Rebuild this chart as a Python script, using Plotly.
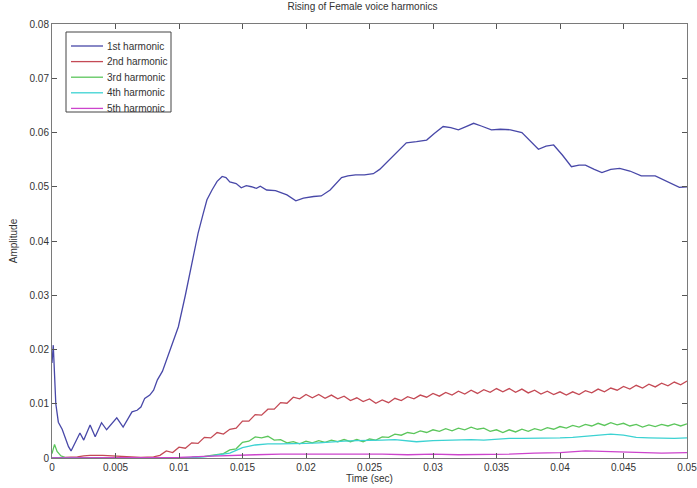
import plotly.graph_objects as go

# ---------------- data ----------------
t1 = [0, 0.0001, 0.0003, 0.0005, 0.0008, 0.001, 0.0013, 0.0015, 0.0018, 0.0022,
      0.0025, 0.003, 0.0034, 0.0039, 0.0043, 0.0051, 0.0056, 0.0063, 0.0067, 0.0070,
      0.0073, 0.0077, 0.0080, 0.0083, 0.0087, 0.0090, 0.0095, 0.00995, 0.0105, 0.0111,
      0.0115, 0.0119, 0.0122, 0.0126, 0.0130, 0.0134, 0.0137, 0.0140, 0.0145, 0.0149,
      0.0153, 0.0157, 0.0161, 0.0164, 0.0169, 0.0176, 0.0185, 0.0192, 0.0198, 0.0206,
      0.0212, 0.0219, 0.0225, 0.0228, 0.0233, 0.0239, 0.0246, 0.0253, 0.0258, 0.0264,
      0.0272, 0.0279, 0.0287, 0.0295, 0.0301, 0.0308, 0.0314, 0.0320, 0.0326, 0.0332,
      0.0338, 0.0346, 0.0353, 0.0361, 0.0370, 0.0376, 0.0383, 0.0389, 0.0395, 0.0402,
      0.0409, 0.0415, 0.0420, 0.0427, 0.0433, 0.0440, 0.0447, 0.0455, 0.0464, 0.0475,
      0.0485, 0.0494, 0.0500]
h1 = [0.0175, 0.0208, 0.0100, 0.0066, 0.0053, 0.0040, 0.0021, 0.0013, 0.0026, 0.0046,
      0.0033, 0.0061, 0.0039, 0.0065, 0.0052, 0.0074, 0.0057, 0.0085, 0.0088, 0.0094,
      0.0110, 0.0116, 0.0125, 0.0144, 0.0160, 0.0180, 0.0210, 0.0242, 0.0300, 0.0371,
      0.0414, 0.0450, 0.0476, 0.0494, 0.0510, 0.0519, 0.0517, 0.0509, 0.0506, 0.0498,
      0.0502, 0.0500, 0.0497, 0.0501, 0.0494, 0.0493, 0.0485, 0.0474, 0.0479, 0.0482,
      0.0483, 0.0494, 0.0510, 0.0517, 0.0520, 0.0522, 0.0522, 0.0524, 0.0532, 0.0546,
      0.0563, 0.0581, 0.0583, 0.0586, 0.0598, 0.0611, 0.0609, 0.0605, 0.0611, 0.0617,
      0.0612, 0.0605, 0.0606, 0.0605, 0.0600, 0.0586, 0.0569, 0.0575, 0.0577, 0.0558,
      0.0537, 0.0540, 0.0540, 0.0532, 0.0526, 0.0532, 0.0534, 0.0529, 0.0520, 0.0520,
      0.0509, 0.0499, 0.0500]

t2 = [0, 0.001, 0.002, 0.0025, 0.003, 0.004, 0.005, 0.006, 0.007, 0.008, 0.0085,
      0.0090, 0.0095, 0.0100, 0.0105, 0.0110, 0.0115, 0.0120, 0.0125, 0.0130, 0.0135,
      0.0140, 0.0145, 0.0150, 0.0155, 0.0160, 0.0165, 0.0170, 0.0175, 0.0180, 0.0185,
      0.0190, 0.0195, 0.0200, 0.0205, 0.0210, 0.0215, 0.0220, 0.0225, 0.0230, 0.0235,
      0.0240, 0.0245, 0.0250, 0.0255, 0.0260, 0.0265, 0.0270, 0.0275, 0.0280, 0.0285,
      0.0290, 0.0295, 0.0300, 0.0305, 0.0310, 0.0315, 0.0320, 0.0325, 0.0330, 0.0335,
      0.0340, 0.0345, 0.0350, 0.0355, 0.0360, 0.0365, 0.0370, 0.0375, 0.0380, 0.0385,
      0.0390, 0.0395, 0.0400, 0.0405, 0.0410, 0.0415, 0.0420, 0.0425, 0.0430, 0.0435,
      0.0440, 0.0445, 0.0450, 0.0455, 0.0460, 0.0465, 0.0470, 0.0475, 0.0480, 0.0485,
      0.0490, 0.0495, 0.0500]
h2 = [0.0000, 0.0001, 0.0002, 0.0004, 0.0005, 0.0005, 0.0004, 0.0002, 0.0001, 0.0002, 0.0005,
      0.0013, 0.0010, 0.0020, 0.0018, 0.0028, 0.0027, 0.0038, 0.0037, 0.0047, 0.0044,
      0.0053, 0.0055, 0.0068, 0.0068, 0.0080, 0.0079, 0.0090, 0.0090, 0.0102, 0.0101,
      0.0112, 0.0109, 0.0117, 0.0111, 0.0117, 0.0110, 0.0116, 0.0109, 0.0114, 0.0106,
      0.0111, 0.0104, 0.0109, 0.0101, 0.0107, 0.0102, 0.0110, 0.0106, 0.0113, 0.0109,
      0.0116, 0.0112, 0.0119, 0.0114, 0.0121, 0.0116, 0.0123, 0.0118, 0.0125, 0.0119,
      0.0126, 0.0121, 0.0128, 0.0122, 0.0128, 0.0121, 0.0127, 0.0120, 0.0125, 0.0118,
      0.0123, 0.0117, 0.0122, 0.0116, 0.0122, 0.0117, 0.0124, 0.0120, 0.0127, 0.0122,
      0.0129, 0.0125, 0.0132, 0.0127, 0.0134, 0.0129, 0.0136, 0.0131, 0.0138, 0.0133,
      0.0140, 0.0135, 0.0142]

t3 = [0, 0.0001, 0.0002, 0.0004, 0.0007, 0.001, 0.002, 0.005, 0.008, 0.011, 0.012, 0.013,
      0.0135, 0.0140, 0.0145, 0.0150, 0.0155, 0.0160, 0.0165, 0.0170, 0.0175, 0.0180,
      0.0185, 0.0190, 0.0195, 0.0200, 0.0205, 0.0210, 0.0215, 0.0220, 0.0225, 0.0230,
      0.0235, 0.0240, 0.0245, 0.0250, 0.0255, 0.0260, 0.0265, 0.0270, 0.0275, 0.0280,
      0.0285, 0.0290, 0.0295, 0.0300, 0.0305, 0.0310, 0.0315, 0.0320, 0.0325, 0.0330,
      0.0335, 0.0340, 0.0345, 0.0350, 0.0355, 0.0360, 0.0365, 0.0370, 0.0375, 0.0380,
      0.0385, 0.0390, 0.0395, 0.0400, 0.0405, 0.0410, 0.0415, 0.0420, 0.0425, 0.0430,
      0.0435, 0.0440, 0.0445, 0.0450, 0.0455, 0.0460, 0.0465, 0.0470, 0.0475, 0.0480,
      0.0485, 0.0490, 0.0495, 0.0500]
h3 = [0.0008, 0.0020, 0.0025, 0.0012, 0.0004, 0.0001, 0.0000, 0.0000, 0.0000, 0.0001, 0.0003, 0.0007,
      0.0008, 0.0015, 0.0017, 0.0029, 0.0031, 0.0039, 0.0037, 0.0040, 0.0033, 0.0034,
      0.0028, 0.0030, 0.0026, 0.0031, 0.0028, 0.0032, 0.0029, 0.0033, 0.0030, 0.0034,
      0.0030, 0.0034, 0.0030, 0.0035, 0.0033, 0.0039, 0.0038, 0.0044, 0.0042, 0.0047,
      0.0045, 0.0050, 0.0047, 0.0052, 0.0049, 0.0054, 0.0050, 0.0055, 0.0052, 0.0057,
      0.0053, 0.0055, 0.0049, 0.0052, 0.0047, 0.0052, 0.0048, 0.0053, 0.0049, 0.0054,
      0.0051, 0.0056, 0.0053, 0.0058, 0.0055, 0.0060, 0.0057, 0.0062, 0.0059, 0.0064,
      0.0060, 0.0065, 0.0061, 0.0064, 0.0059, 0.0062, 0.0057, 0.0061, 0.0058, 0.0062,
      0.0059, 0.0063, 0.0059, 0.0063]

t4 = [0, 0.005, 0.010, 0.011, 0.012, 0.013, 0.014, 0.0145, 0.015, 0.016, 0.017, 0.018,
      0.019, 0.020, 0.021, 0.022, 0.023, 0.024, 0.025, 0.026, 0.027, 0.028, 0.0287,
      0.030, 0.031, 0.032, 0.033, 0.034, 0.035, 0.036, 0.037, 0.038, 0.039, 0.040,
      0.041, 0.042, 0.043, 0.044, 0.045, 0.046, 0.047, 0.048, 0.049, 0.050]
h4 = [0.0000, 0.0000, 0.0000, 0.0001, 0.0002, 0.0005, 0.0009, 0.0014, 0.0019, 0.0024,
      0.0026, 0.0026, 0.0026, 0.0027, 0.0028, 0.0030, 0.0031, 0.0032, 0.0032, 0.0033,
      0.0034, 0.0032, 0.0030, 0.0032, 0.0033, 0.0034, 0.0034, 0.0033, 0.0035, 0.0036,
      0.0036, 0.0036, 0.0037, 0.0037, 0.0038, 0.0040, 0.0042, 0.0044, 0.0042, 0.0038,
      0.0037, 0.0036, 0.0036, 0.0037]

t5 = [0, 0.005, 0.010, 0.012, 0.014, 0.016, 0.018, 0.020, 0.022, 0.024, 0.026, 0.028,
      0.030, 0.032, 0.034, 0.036, 0.038, 0.040, 0.042, 0.044, 0.046, 0.048, 0.050]
h5 = [0.0000, 0.0000, 0.0001, 0.0003, 0.0005, 0.0006, 0.0007, 0.0007, 0.0008, 0.0007,
      0.0007, 0.0006, 0.0007, 0.0006, 0.0006, 0.0007, 0.0009, 0.0010, 0.0013, 0.0012,
      0.0011, 0.0009, 0.0010]

series_names = ["1st harmonic", "2nd harmonic", "3rd harmonic", "4th harmonic", "5th harmonic"]
series_t = [t1, t2, t3, t4, t5]
series_h = [h1, h2, h3, h4, h5]
series_colors = ["#4848a8", "#c44a55", "#5cc65c", "#3cd2d2", "#cc44cc"]

x_ticks = [0, 0.005, 0.01, 0.015, 0.02, 0.025, 0.03, 0.035, 0.04, 0.045, 0.05]
x_tick_text = ["0", "0.005", "0.01", "0.015", "0.02", "0.025", "0.03", "0.035", "0.04", "0.045", "0.05"]
y_ticks = [0, 0.01, 0.02, 0.03, 0.04, 0.05, 0.06, 0.07, 0.08]
y_tick_text = ["0", "0.01", "0.02", "0.03", "0.04", "0.05", "0.06", "0.07", "0.08"]

# ---------------- figure ----------------
FONT = "Liberation Sans, Arial, sans-serif"
TXT = "#333333"
W, H = 697, 488
ML, MR, MT, MB = 52, 10, 24, 30
PW, PH = W - ML - MR, H - MT - MB

fig = go.Figure()
for name, tt, hh, col in zip(series_names, series_t, series_h, series_colors):
    fig.add_trace(go.Scatter(x=tt, y=hh, mode="lines", name=name,
                             line=dict(color=col, width=1.3), showlegend=False))

# MATLAB-style boxed legend (compact rows), drawn in paper coordinates
def px_x(p):
    return (p - ML) / PW

def px_y(p):
    return (H - MB - p) / PH

shapes = [dict(type="rect", xref="paper", yref="paper",
               x0=px_x(66), x1=px_x(171), y0=px_y(112), y1=px_y(32),
               line=dict(color="#444444", width=1), fillcolor="white", layer="above")]
annotations = []
row0, row_gap = 46.0, 15.6
for i, (name, col) in enumerate(zip(series_names, series_colors)):
    yy = row0 + i * row_gap
    shapes.append(dict(type="line", xref="paper", yref="paper",
                       x0=px_x(71), x1=px_x(103), y0=px_y(yy), y1=px_y(yy),
                       line=dict(color=col, width=1.3), layer="above"))
    annotations.append(dict(xref="paper", yref="paper", x=px_x(105), y=px_y(yy),
                            xanchor="left", yanchor="middle", showarrow=False,
                            text=name, font=dict(family=FONT, size=10, color=TXT)))

axis_common = dict(showgrid=False, zeroline=False, showline=True, linecolor="#7a7a7a",
                   linewidth=1, mirror="ticks", ticks="inside", ticklen=5,
                   tickcolor="#555555", automargin=False, ticklabeloverflow="allow",
                   tickfont=dict(family=FONT, size=10, color=TXT))

fig.update_layout(
    width=W, height=H,
    margin=dict(l=ML, r=MR, t=MT, b=MB),
    paper_bgcolor="white", plot_bgcolor="white",
    title=dict(text="Rising of Female voice harmonics", x=0.52, xanchor="center",
               y=0.986, yanchor="middle", font=dict(family=FONT, size=10, color=TXT)),
    xaxis=dict(range=[0, 0.05], tickvals=x_ticks, ticktext=x_tick_text,
               title=dict(text="Time (sec)", font=dict(family=FONT, size=10, color=TXT),
                          standoff=1),
               **axis_common),
    yaxis=dict(range=[0, 0.08], tickvals=y_ticks, ticktext=y_tick_text,
               title=dict(text="Amplitude", font=dict(family=FONT, size=10, color=TXT),
                          standoff=10),
               **axis_common),
    shapes=shapes,
    annotations=annotations,
    showlegend=False,
)

fig.write_html("out.html",
               config={"displayModeBar": False},
               post_script="document.body.style.margin='0';"
                           "document.body.style.padding='0';"
                           "document.body.style.overflow='hidden';")
